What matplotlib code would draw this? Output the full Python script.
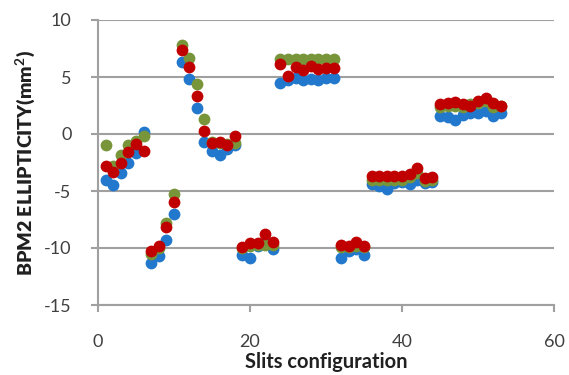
import matplotlib
matplotlib.use("Agg")
import matplotlib.pyplot as plt

x = list(range(1, 54))

blue = [-4.0, -4.5, -3.4, -2.5, -1.7, 0.2,
        -11.3, -10.7, -9.3, -7.0,
        6.3, 4.8, 2.3, -0.7, -1.5, -1.8, -1.3, -1.0,
        -10.6, -10.9, -9.8, -9.6, -10.1,
        4.5, 4.7, 4.9, 4.7, 4.8, 4.7, 4.9, 4.9,
        -10.9, -10.3, -10.1, -10.6,
        -4.4, -4.6, -4.8, -4.3, -4.2, -4.4, -4.0, -4.3, -4.2,
        1.6, 1.5, 1.2, 1.7, 1.8, 1.8, 2.0, 1.6, 1.8]

green = [-1.0, -2.8, -1.8, -1.0, -0.6, -0.2,
         -10.5, -10.0, -7.8, -5.3,
         7.8, 6.7, 4.4, 1.3, -0.7, -0.8, -0.9, -0.8,
         -10.0, -9.8, -9.7, -9.7, -9.7,
         6.6, 6.6, 6.6, 6.6, 6.6, 6.6, 6.6, 6.6,
         -9.9, -9.9, -9.8, -9.9,
         -4.0, -4.0, -4.0, -4.0, -4.0, -3.8, -3.4, -4.1, -4.0,
         2.4, 2.5, 2.5, 2.4, 2.6, 2.7, 2.9, 2.4, 2.5]

red = [-2.8, -3.3, -2.5, -1.6, -0.9, -1.5,
       -10.3, -9.8, -8.2, -6.0,
       7.4, 5.9, 3.3, 0.3, -0.8, -0.7, -1.0, -0.2,
       -9.9, -9.6, -9.6, -8.8, -9.5,
       6.1, 5.1, 5.9, 5.6, 6.0, 5.7, 5.8, 5.8,
       -9.7, -9.8, -9.5, -9.8,
       -3.7, -3.7, -3.7, -3.7, -3.7, -3.5, -3.0, -3.9, -3.8,
       2.6, 2.7, 2.8, 2.6, 2.5, 2.9, 3.2, 2.7, 2.5]

xticks = [0, 20, 40, 60]
yticks = [-15, -10, -5, 0, 5, 10]

plt.rcParams['font.family'] = ['Lato', 'DejaVu Sans']
plt.rcParams['axes.unicode_minus'] = False
plt.rcParams['mathtext.fontset'] = 'custom'
plt.rcParams['mathtext.bf'] = 'Lato:bold'

fig = plt.figure(figsize=(5.69, 3.75), dpi=100)
ax = fig.add_axes([98/569, 1-305/375, (554-98)/569, (305-20)/375])

s = 72
ax.scatter(x, blue, s=s, color='#2278cc', zorder=3, linewidths=0)
ax.scatter(x, green, s=s, color='#78953a', zorder=4, linewidths=0)
ax.scatter(x, red, s=s, color='#c00000', zorder=5, linewidths=0)

ax.set_xlim(0, 60)
ax.set_ylim(-15, 10)
ax.set_xticks(xticks)
ax.set_yticks(yticks)
ax.yaxis.grid(True, color='#a0a0a0', linewidth=1.5)
ax.set_axisbelow(True)
for sp in ['top', 'right']:
    ax.spines[sp].set_visible(False)
for sp in ['left', 'bottom']:
    ax.spines[sp].set_color('#a0a0a0')
    ax.spines[sp].set_linewidth(1.5)
ax.tick_params(axis='both', direction='out', length=5, width=1.5, color='#a0a0a0',
               labelcolor='#404040', labelsize=13)
ax.tick_params(axis='x', pad=16)
ax.tick_params(axis='y', pad=14)

ax.set_xlabel('Slits configuration', fontsize=14.5, fontweight='bold', color='#202020', labelpad=1)
ax.set_ylabel('BPM2 ELLIPTICITY(mm$^{\\mathbf{2}}$)', fontsize=14, fontweight='heavy', color='#202020', labelpad=4)

fig.savefig('out.png', dpi=100)
